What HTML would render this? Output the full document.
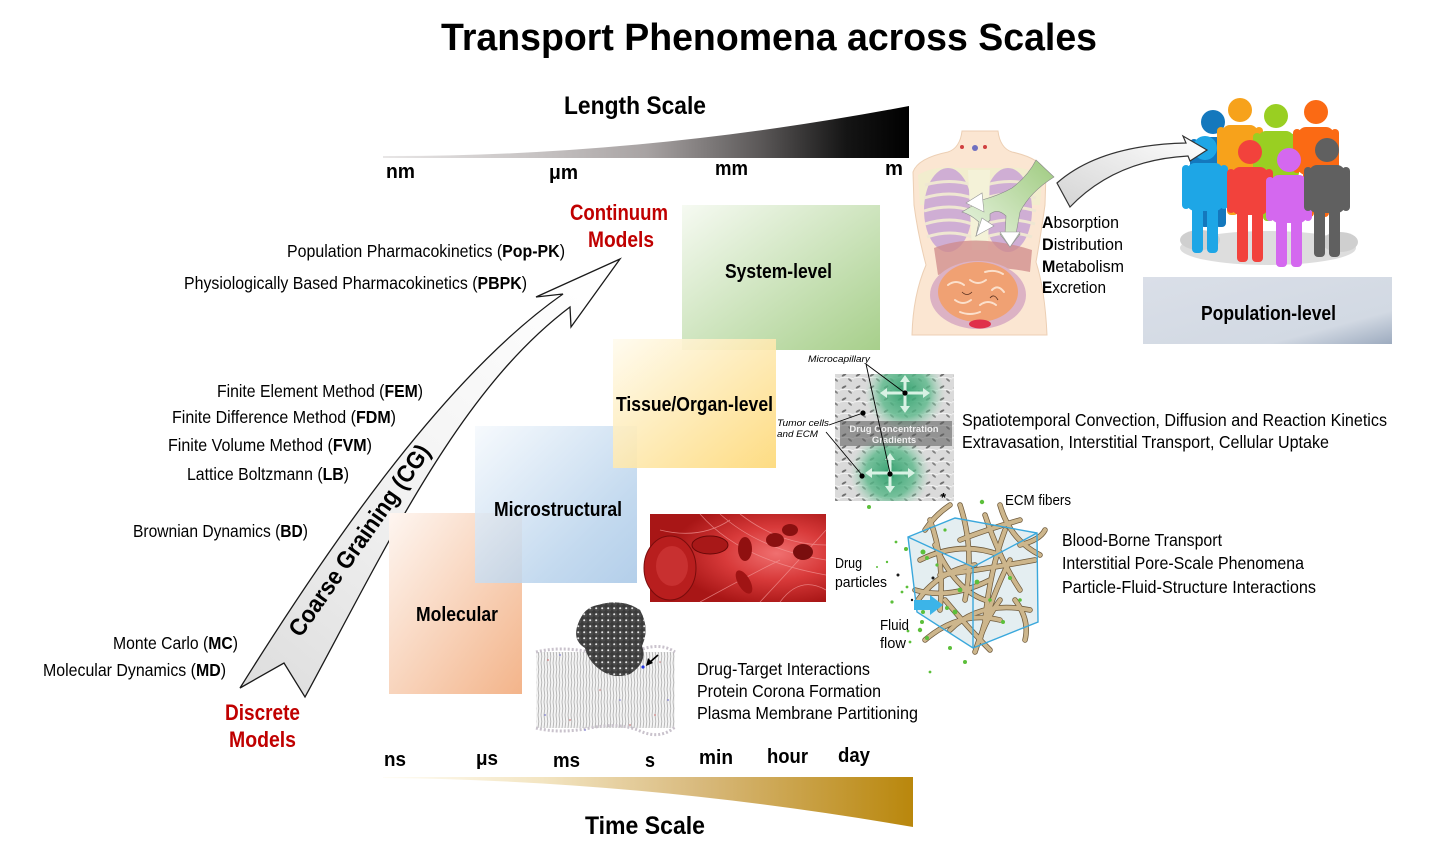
<!DOCTYPE html>
<html><head><meta charset="utf-8">
<style>
html,body{margin:0;padding:0;background:#fff;}
svg{display:block;}
text{font-family:"Liberation Sans",sans-serif;fill:#000;}
</style></head><body>
<svg width="1433" height="859" viewBox="0 0 1433 859" xmlns="http://www.w3.org/2000/svg">
<defs>
<linearGradient id="lg" x1="383" y1="0" x2="909" y2="0" gradientUnits="userSpaceOnUse">
<stop offset="0" stop-color="#e8e6e6"/><stop offset="0.3" stop-color="#c6c2c2"/><stop offset="0.5" stop-color="#a8a3a3"/><stop offset="0.72" stop-color="#5a5757"/><stop offset="0.88" stop-color="#151515"/><stop offset="1" stop-color="#000"/>
</linearGradient>
<linearGradient id="tg" x1="383" y1="0" x2="913" y2="0" gradientUnits="userSpaceOnUse">
<stop offset="0" stop-color="#fffdf6"/><stop offset="0.3" stop-color="#f3e5c2"/><stop offset="0.6" stop-color="#d8b97c"/><stop offset="1" stop-color="#b9870c"/>
</linearGradient>
<linearGradient id="gMol" x1="0" y1="0" x2="1" y2="1"><stop offset="0" stop-color="#fef6f1"/><stop offset="1" stop-color="#f3b48a"/></linearGradient>
<linearGradient id="gMic" x1="0" y1="0" x2="1" y2="1"><stop offset="0" stop-color="#f5f9fd"/><stop offset="0.7" stop-color="#b9d3ec"/><stop offset="1" stop-color="#a6c6e6"/></linearGradient>
<linearGradient id="gTis" x1="0" y1="0" x2="1" y2="1"><stop offset="0" stop-color="#fffbee"/><stop offset="1" stop-color="#fdd875"/></linearGradient>
<linearGradient id="gSys" x1="0" y1="0" x2="1" y2="1"><stop offset="0" stop-color="#f6faf2"/><stop offset="1" stop-color="#a7cf8b"/></linearGradient>
<linearGradient id="gPop" x1="0" y1="0" x2="1" y2="1"><stop offset="0" stop-color="#dadfe8"/><stop offset="0.75" stop-color="#d2d9e3"/><stop offset="1" stop-color="#9dabbf"/></linearGradient>
<linearGradient id="arrG" x1="260" y1="690" x2="600" y2="270" gradientUnits="userSpaceOnUse"><stop offset="0" stop-color="#dedede"/><stop offset="0.5" stop-color="#f4f4f4"/><stop offset="1" stop-color="#ffffff"/></linearGradient>
<linearGradient id="arr2G" x1="0" y1="1" x2="1" y2="0"><stop offset="0" stop-color="#d4d4d4"/><stop offset="1" stop-color="#ffffff"/></linearGradient>
<linearGradient id="greenA" x1="1" y1="0" x2="0" y2="1"><stop offset="0" stop-color="#9fcb80"/><stop offset="1" stop-color="#eef6e8"/></linearGradient>
<radialGradient id="bloodG" cx="0.72" cy="0.45" r="0.6"><stop offset="0" stop-color="#f07070"/><stop offset="0.5" stop-color="#d83a3a"/><stop offset="1" stop-color="#a81616"/></radialGradient>
<radialGradient id="capG"><stop offset="0" stop-color="#2f9f6c" stop-opacity="0.95"/><stop offset="0.6" stop-color="#5cb98b" stop-opacity="0.8"/><stop offset="1" stop-color="#9fd6b8" stop-opacity="0"/></radialGradient>
<pattern id="lip" width="3" height="13" patternUnits="userSpaceOnUse"><rect width="3" height="13" fill="#f4f4f4"/><path d="M1,0 L1.8,6.5 L1,13" stroke="#b3b3b3" stroke-width="0.9" fill="none"/></pattern>
<pattern id="atoms" width="6" height="6" patternUnits="userSpaceOnUse"><circle cx="3" cy="3" r="2.6" fill="#4a4a4a"/><circle cx="2.2" cy="2.2" r="1" fill="#e8e8e8"/></pattern>
<pattern id="cells" width="14" height="12" patternUnits="userSpaceOnUse"><rect width="14" height="12" fill="#dadada"/><ellipse cx="4" cy="3" rx="2.6" ry="1" fill="#707070" transform="rotate(-30 4 3)"/><ellipse cx="10" cy="8" rx="2.4" ry="0.9" fill="#808080" transform="rotate(40 10 8)"/><path d="M0,6 Q7,4 14,7" stroke="#f4f4f4" stroke-width="1" fill="none"/></pattern>
<clipPath id="tisClip"><rect x="835" y="374" width="119" height="127"/></clipPath>
</defs>

<!-- Title -->
<text x="441" y="50" font-size="38" font-weight="bold" textLength="656" lengthAdjust="spacingAndGlyphs">Transport Phenomena across Scales</text>

<!-- Length scale -->
<text x="564" y="114" font-size="25" font-weight="bold" textLength="142" lengthAdjust="spacingAndGlyphs">Length Scale</text>
<path d="M383,158 L909,158 L909,106 Q640,157 383,156 Z" fill="url(#lg)"/>
<text x="386" y="178" font-size="20" font-weight="bold" textLength="29" lengthAdjust="spacingAndGlyphs">nm</text>
<text x="549" y="179" font-size="20" font-weight="bold" textLength="29" lengthAdjust="spacingAndGlyphs">μm</text>
<text x="715" y="175" font-size="20" font-weight="bold" textLength="33" lengthAdjust="spacingAndGlyphs">mm</text>
<text x="885" y="175" font-size="20" font-weight="bold" textLength="18" lengthAdjust="spacingAndGlyphs">m</text>

<!-- Time scale -->
<text x="384" y="766" font-size="20" font-weight="bold" textLength="22" lengthAdjust="spacingAndGlyphs">ns</text>
<text x="476" y="765" font-size="20" font-weight="bold" textLength="22" lengthAdjust="spacingAndGlyphs">μs</text>
<text x="553" y="767" font-size="20" font-weight="bold" textLength="27" lengthAdjust="spacingAndGlyphs">ms</text>
<text x="645" y="767" font-size="20" font-weight="bold" textLength="10" lengthAdjust="spacingAndGlyphs">s</text>
<text x="699" y="764" font-size="20" font-weight="bold" textLength="34" lengthAdjust="spacingAndGlyphs">min</text>
<text x="767" y="763" font-size="20" font-weight="bold" textLength="41" lengthAdjust="spacingAndGlyphs">hour</text>
<text x="838" y="762" font-size="20" font-weight="bold" textLength="32" lengthAdjust="spacingAndGlyphs">day</text>
<path d="M383,777 L913,777 L913,827 Q640,780 383,778 Z" fill="url(#tg)"/>
<text x="585" y="834" font-size="25" font-weight="bold" textLength="120" lengthAdjust="spacingAndGlyphs">Time Scale</text>

<!-- Coarse graining arrow -->
<path d="M240,688 C320,560 440,380 563,294 L536,297 L620,259 L571,327 L570,307 C460,390 390,540 305,697 L284,663 Z" fill="url(#arrG)" stroke="#1a1a1a" stroke-width="1.3" stroke-linejoin="miter"/>
<text transform="translate(366,545) rotate(-55)" text-anchor="middle" font-size="24" font-weight="bold" textLength="228" lengthAdjust="spacingAndGlyphs">Coarse Graining (CG)</text>

<!-- Red labels -->
<text x="570" y="220" font-size="22" font-weight="bold" style="fill:#c00000" textLength="98" lengthAdjust="spacingAndGlyphs">Continuum</text>
<text x="588" y="247" font-size="22" font-weight="bold" style="fill:#c00000" textLength="66" lengthAdjust="spacingAndGlyphs">Models</text>
<text x="225" y="720" font-size="22" font-weight="bold" style="fill:#c00000" textLength="75" lengthAdjust="spacingAndGlyphs">Discrete</text>
<text x="229" y="747" font-size="22" font-weight="bold" style="fill:#c00000" textLength="67" lengthAdjust="spacingAndGlyphs">Models</text>

<!-- Left method labels -->
<g font-size="17.5">
<text x="287" y="257" textLength="278" lengthAdjust="spacingAndGlyphs">Population Pharmacokinetics (<tspan font-weight="bold">Pop-PK</tspan>)</text>
<text x="184" y="289" textLength="343" lengthAdjust="spacingAndGlyphs">Physiologically Based Pharmacokinetics (<tspan font-weight="bold">PBPK</tspan>)</text>
<text x="217" y="397" textLength="206" lengthAdjust="spacingAndGlyphs">Finite Element Method (<tspan font-weight="bold">FEM</tspan>)</text>
<text x="172" y="423" textLength="224" lengthAdjust="spacingAndGlyphs">Finite Difference Method (<tspan font-weight="bold">FDM</tspan>)</text>
<text x="168" y="451" textLength="204" lengthAdjust="spacingAndGlyphs">Finite Volume Method (<tspan font-weight="bold">FVM</tspan>)</text>
<text x="187" y="480" textLength="162" lengthAdjust="spacingAndGlyphs">Lattice Boltzmann (<tspan font-weight="bold">LB</tspan>)</text>
<text x="133" y="537" textLength="175" lengthAdjust="spacingAndGlyphs">Brownian Dynamics (<tspan font-weight="bold">BD</tspan>)</text>
<text x="113" y="649" textLength="125" lengthAdjust="spacingAndGlyphs">Monte Carlo (<tspan font-weight="bold">MC</tspan>)</text>
<text x="43" y="676" textLength="183" lengthAdjust="spacingAndGlyphs">Molecular Dynamics (<tspan font-weight="bold">MD</tspan>)</text>
</g>

<!-- Scale boxes -->
<rect x="389" y="513" width="133" height="181" fill="url(#gMol)"/>
<rect x="475" y="426" width="162" height="157" fill="url(#gMic)" opacity="0.85"/>
<rect x="682" y="205" width="198" height="145" fill="url(#gSys)"/>
<rect x="613" y="339" width="163" height="129" fill="url(#gTis)" opacity="0.9"/>
<g font-size="20" font-weight="bold">
<text x="416" y="621" textLength="82" lengthAdjust="spacingAndGlyphs">Molecular</text>
<text x="494" y="516" textLength="128" lengthAdjust="spacingAndGlyphs">Microstructural</text>
<text x="616" y="411" textLength="157" lengthAdjust="spacingAndGlyphs">Tissue/Organ-level</text>
<text x="725" y="278" textLength="107" lengthAdjust="spacingAndGlyphs">System-level</text>
</g>

<!-- Blood vessel image -->
<g>
<rect x="650" y="514" width="176" height="88" fill="url(#bloodG)"/>
<g fill="none" stroke="#f49a9a" stroke-width="0.8" opacity="0.7">
<path d="M700,514 Q740,560 826,575"/><path d="M720,514 Q760,550 826,560"/><path d="M740,514 Q780,545 826,545"/><path d="M760,602 Q790,570 826,530"/><path d="M780,602 Q800,575 826,590"/><path d="M700,602 Q740,580 780,560"/><path d="M660,530 Q700,540 730,520"/>
</g>
<ellipse cx="670" cy="568" rx="26" ry="32" fill="#b81e1e" stroke="#7a0c0c" stroke-width="1"/>
<ellipse cx="672" cy="566" rx="16" ry="20" fill="#c83030"/>
<ellipse cx="710" cy="545" rx="18" ry="9" fill="#a81818" stroke="#6a0808"/>
<ellipse cx="745" cy="549" rx="7" ry="12" fill="#901010"/>
<ellipse cx="744" cy="582" rx="6" ry="13" fill="#a01414" transform="rotate(-30 744 582)"/>
<ellipse cx="775" cy="540" rx="9" ry="7" fill="#8a1010"/>
<ellipse cx="790" cy="530" rx="8" ry="6" fill="#8a1010"/>
<ellipse cx="803" cy="552" rx="10" ry="8" fill="#7a0e0e"/>
</g>

<!-- Membrane + protein -->
<g>
<rect x="536" y="652" width="139" height="76" fill="url(#lip)"/>
<path d="M536,652 Q560,646 590,652 T640,650 T675,652" stroke="#c9c2cc" stroke-width="3" fill="none" stroke-dasharray="2 2"/>
<path d="M536,728 Q560,734 590,728 T640,731 T675,727" stroke="#c9c2cc" stroke-width="3" fill="none" stroke-dasharray="2 2"/>
<g fill="#d08080"><circle cx="548" cy="660" r="0.9"/><circle cx="570" cy="720" r="0.9"/><circle cx="600" cy="690" r="0.8"/><circle cx="630" cy="725" r="0.9"/><circle cx="660" cy="662" r="0.8"/><circle cx="655" cy="715" r="0.9"/></g>
<g fill="#8080d0"><circle cx="560" cy="655" r="0.9"/><circle cx="585" cy="730" r="0.9"/><circle cx="620" cy="700" r="0.8"/><circle cx="668" cy="700" r="0.9"/><circle cx="545" cy="715" r="0.9"/></g>
<path d="M598,605 Q622,598 640,610 Q650,628 642,646 Q648,662 630,674 Q612,680 598,668 Q588,660 585,648 Q572,640 578,624 Q584,607 598,605 Z" fill="#3a3a3a"/>
<path d="M598,605 Q622,598 640,610 Q650,628 642,646 Q648,662 630,674 Q612,680 598,668 Q588,660 585,648 Q572,640 578,624 Q584,607 598,605 Z" fill="url(#atoms)"/>
<line x1="658" y1="655" x2="649" y2="663" stroke="#000" stroke-width="1.6"/>
<polygon points="646,666 648,658 653,663" fill="#000"/>
<circle cx="643" cy="667" r="1.6" fill="#2233dd"/>
</g>
<g font-size="17.5">
<text x="697" y="675" textLength="173" lengthAdjust="spacingAndGlyphs">Drug-Target Interactions</text>
<text x="697" y="697" textLength="184" lengthAdjust="spacingAndGlyphs">Protein Corona Formation</text>
<text x="697" y="719" textLength="221" lengthAdjust="spacingAndGlyphs">Plasma Membrane Partitioning</text>
</g>

<!-- Tissue image -->
<g>
<rect x="835" y="374" width="119" height="127" fill="url(#cells)"/>
<g clip-path="url(#tisClip)">
<circle cx="905" cy="393" r="40" fill="url(#capG)"/>
<circle cx="890" cy="473" r="40" fill="url(#capG)"/>
</g>
<rect x="840" y="421" width="112" height="25" fill="#5a5a5a" opacity="0.55"/>
<g stroke="#d8f2e4" stroke-width="3" fill="#d8f2e4">
<line x1="885" y1="393" x2="925" y2="393"/><line x1="905" y1="378" x2="905" y2="408"/>
<line x1="870" y1="473" x2="910" y2="473"/><line x1="890" y1="458" x2="890" y2="488"/>
</g>
<g fill="#d8f2e4">
<polygon points="880,393 887,388 887,398"/><polygon points="930,393 923,388 923,398"/><polygon points="905,375 900,382 910,382"/><polygon points="905,413 900,406 910,406"/>
<polygon points="865,473 872,468 872,478"/><polygon points="915,473 908,468 908,478"/><polygon points="890,453 885,460 895,460"/><polygon points="890,493 885,486 895,486"/>
</g>
<text x="894" y="432" font-size="9.5" font-weight="bold" text-anchor="middle" style="fill:#f0f0f0">Drug Concentration</text>
<text x="894" y="443" font-size="9.5" font-weight="bold" text-anchor="middle" style="fill:#f0f0f0">Gradients</text>
<g stroke="#000" stroke-width="0.9">
<line x1="866" y1="364" x2="905" y2="393"/><line x1="866" y1="364" x2="890" y2="473"/>
<line x1="829" y1="425" x2="863" y2="413"/><line x1="826" y1="432" x2="862" y2="475"/>
</g>
<g fill="#000"><circle cx="905" cy="393" r="2.6"/><circle cx="890" cy="474" r="2.6"/><circle cx="863" cy="413" r="2.6"/><circle cx="862" cy="476" r="2.6"/></g>
<text x="941" y="502" font-size="13" font-weight="bold">*</text>
</g>
<text x="808" y="362" font-size="9.5" font-style="italic" textLength="62" lengthAdjust="spacingAndGlyphs">Microcapillary</text>
<text x="777" y="426" font-size="9.5" font-style="italic" textLength="52" lengthAdjust="spacingAndGlyphs">Tumor cells</text>
<text x="777" y="437" font-size="9.5" font-style="italic" textLength="41" lengthAdjust="spacingAndGlyphs">and ECM</text>
<g font-size="17.5">
<text x="962" y="426" textLength="425" lengthAdjust="spacingAndGlyphs">Spatiotemporal Convection, Diffusion and Reaction Kinetics</text>
<text x="962" y="448" textLength="367" lengthAdjust="spacingAndGlyphs">Extravasation, Interstitial Transport, Cellular Uptake</text>
</g>

<!-- ECM cube -->
<g>
<polygon points="908,537 955,518 1037,533 1038,622 973,648 917,612" fill="#dbe8ec" opacity="0.75"/>
<g fill="none" stroke-linecap="round">
<g stroke="#6e5a3c" stroke-width="5.5">
<path d="M920,560 Q960,540 1000,555"/><path d="M915,590 Q950,600 990,580"/><path d="M930,520 Q945,560 940,610"/><path d="M960,505 Q975,550 965,600"/><path d="M985,515 Q1000,560 1020,590"/><path d="M1000,505 Q1010,540 1040,555"/><path d="M925,640 Q960,610 1000,620"/><path d="M950,630 Q980,600 1030,610"/><path d="M940,575 Q980,570 1035,560"/><path d="M980,640 Q990,600 1010,560"/><path d="M918,600 Q940,570 975,565"/><path d="M1005,530 Q990,570 985,620"/><path d="M960,540 Q985,530 1020,520"/><path d="M935,545 Q955,590 985,600"/><path d="M975,652 Q985,620 1000,600"/><path d="M1015,600 Q1030,620 1025,640"/><path d="M945,600 Q970,630 990,650"/><path d="M925,530 Q935,515 950,505"/><path d="M1020,545 Q1040,540 1045,530"/>
</g>
<g stroke="#cdb68c" stroke-width="4">
<path d="M920,560 Q960,540 1000,555"/><path d="M915,590 Q950,600 990,580"/><path d="M930,520 Q945,560 940,610"/><path d="M960,505 Q975,550 965,600"/><path d="M985,515 Q1000,560 1020,590"/><path d="M1000,505 Q1010,540 1040,555"/><path d="M925,640 Q960,610 1000,620"/><path d="M950,630 Q980,600 1030,610"/><path d="M940,575 Q980,570 1035,560"/><path d="M980,640 Q990,600 1010,560"/><path d="M918,600 Q940,570 975,565"/><path d="M1005,530 Q990,570 985,620"/><path d="M960,540 Q985,530 1020,520"/><path d="M935,545 Q955,590 985,600"/><path d="M975,652 Q985,620 1000,600"/><path d="M1015,600 Q1030,620 1025,640"/><path d="M945,600 Q970,630 990,650"/><path d="M925,530 Q935,515 950,505"/><path d="M1020,545 Q1040,540 1045,530"/>
</g>
</g>
<g fill="none" stroke="#3aa8dc" stroke-width="1.4">
<polygon points="908,537 955,518 1037,533 1038,622 973,648 917,612"/>
<polyline points="908,537 973,567 1037,533"/><line x1="973" y1="567" x2="973" y2="648"/>
</g>
<g fill="#5cbf3a">
<circle cx="982" cy="502" r="2.2"/><circle cx="869" cy="507" r="2"/><circle cx="896" cy="542" r="1.4"/><circle cx="906" cy="549" r="2"/><circle cx="887" cy="562" r="1.2"/><circle cx="877" cy="567" r="1"/><circle cx="923" cy="552" r="2.5"/><circle cx="907" cy="587" r="1.4"/><circle cx="902" cy="592" r="1.4"/><circle cx="892" cy="602" r="1.6"/><circle cx="923" cy="612" r="2"/><circle cx="922" cy="622" r="2"/><circle cx="920" cy="630" r="2.2"/><circle cx="908" cy="631" r="1.4"/><circle cx="927" cy="638" r="2"/><circle cx="910" cy="642" r="1.4"/><circle cx="950" cy="648" r="2"/><circle cx="965" cy="662" r="2"/><circle cx="930" cy="672" r="1.4"/><circle cx="977" cy="582" r="2.4"/><circle cx="955" cy="612" r="2.4"/><circle cx="947" cy="608" r="2"/><circle cx="1003" cy="622" r="2"/><circle cx="1010" cy="578" r="2"/><circle cx="927" cy="558" r="2"/><circle cx="937" cy="565" r="1.6"/><circle cx="960" cy="590" r="2.4"/><circle cx="990" cy="600" r="1.8"/><circle cx="945" cy="530" r="1.6"/><circle cx="1020" cy="600" r="1.8"/>
</g>
<g fill="#1a1a1a"><circle cx="898" cy="575" r="1.5"/><circle cx="933" cy="578" r="1.5"/><circle cx="912" cy="600" r="1.2"/></g>
<polygon points="914,600 930,600 930,595 943,605 930,615 930,610 914,610" fill="#3cb4e8"/>
</g>
<g font-size="15">
<text x="1005" y="505" textLength="66" lengthAdjust="spacingAndGlyphs">ECM fibers</text>
<text x="835" y="568" textLength="27" lengthAdjust="spacingAndGlyphs">Drug</text>
<text x="835" y="587" textLength="52" lengthAdjust="spacingAndGlyphs">particles</text>
<text x="880" y="630" textLength="29" lengthAdjust="spacingAndGlyphs">Fluid</text>
<text x="880" y="648" textLength="26" lengthAdjust="spacingAndGlyphs">flow</text>
</g>
<g font-size="17.5">
<text x="1062" y="546" textLength="160" lengthAdjust="spacingAndGlyphs">Blood-Borne Transport</text>
<text x="1062" y="569" textLength="242" lengthAdjust="spacingAndGlyphs">Interstitial Pore-Scale Phenomena</text>
<text x="1062" y="593" textLength="254" lengthAdjust="spacingAndGlyphs">Particle-Fluid-Structure Interactions</text>
</g>

<!-- Torso -->
<g>
<path d="M962,131 L998,131 Q1000,148 1012,152 Q1040,158 1046,172 L1045,205 Q1040,240 1036,262 Q1045,290 1047,335 L912,335 Q913,295 926,265 Q918,235 914,205 L913,172 Q918,158 948,152 Q960,148 962,131 Z" fill="#fbe6d2" stroke="#eccfb4" stroke-width="1"/>
<path d="M918,175 Q935,165 960,168 L1000,168 Q1030,165 1042,178 L1040,205 L920,205 Z" fill="#eef0cc" opacity="0.7"/>
<ellipse cx="948" cy="210" rx="24" ry="42" fill="#cfaed4"/>
<ellipse cx="1008" cy="210" rx="24" ry="42" fill="#cfaed4"/>
<g stroke="#efe7d2" stroke-width="3" fill="none">
<path d="M925,185 Q950,178 972,185"/><path d="M924,198 Q950,190 972,198"/><path d="M924,211 Q950,203 972,211"/><path d="M925,224 Q950,216 972,224"/><path d="M927,237 Q950,229 972,237"/>
<path d="M986,185 Q1010,178 1035,185"/><path d="M986,198 Q1010,190 1036,198"/><path d="M986,211 Q1010,203 1036,211"/><path d="M986,224 Q1010,216 1035,224"/><path d="M986,237 Q1010,229 1032,237"/>
</g>
<path d="M968,170 L990,170 L988,250 L972,250 Z" fill="#f4f2d8"/>
<path d="M934,248 Q975,232 1032,250 L1030,272 Q980,262 938,275 Z" fill="#cf8a8a" opacity="0.75"/>
<ellipse cx="978" cy="295" rx="48" ry="34" fill="#dcb2c4"/>
<ellipse cx="978" cy="292" rx="40" ry="30" fill="#f0a173"/>
<g stroke="#fbe0cc" stroke-width="2" fill="none" stroke-linecap="round">
<path d="M948,285 q8,-6 16,0"/><path d="M970,280 q8,6 16,0"/><path d="M992,290 q6,-6 12,2"/><path d="M955,300 q8,6 16,0"/><path d="M980,305 q8,-6 16,0"/><path d="M960,312 q10,4 20,0"/><path d="M985,272 q10,-3 18,2"/>
</g>
<g stroke="#5a3020" stroke-width="0.8" fill="none"><path d="M962,292 q5,5 10,0"/><path d="M990,298 q4,-5 8,2"/></g>
<ellipse cx="980" cy="324" rx="11" ry="4.5" fill="#e0304a"/>
<circle cx="962" cy="147" r="2" fill="#d04040"/><circle cx="975" cy="148" r="3" fill="#7070c0"/><circle cx="985" cy="147" r="2" fill="#d04040"/>
<path d="M1036,160 L1054,177 Q1030,192 1020,212 L1016,234 L1020,234 L1010,247 L1000,234 L1005,234 L1006,216 Q998,208 990,214 L990,220 L976,236 L979,222 Q970,214 962,212 L972,206 L968,202 L982,193 L982,200 Q1000,195 1012,188 Q1028,176 1036,160 Z" fill="url(#greenA)" stroke="#8a8a8a" stroke-width="0.6"/>
<polygon points="966,203 982,193 984,212" fill="#fff" stroke="#999" stroke-width="0.6"/>
<polygon points="976,236 982,218 994,226" fill="#fff" stroke="#999" stroke-width="0.6"/>
<polygon points="1010,247 1000,232 1020,232" fill="#fff" stroke="#999" stroke-width="0.6"/>
</g>
<g font-size="17">
<text x="1042" y="228" textLength="77" lengthAdjust="spacingAndGlyphs"><tspan font-weight="bold">A</tspan>bsorption</text>
<text x="1042" y="250" textLength="81" lengthAdjust="spacingAndGlyphs"><tspan font-weight="bold">D</tspan>istribution</text>
<text x="1042" y="272" textLength="82" lengthAdjust="spacingAndGlyphs"><tspan font-weight="bold">M</tspan>etabolism</text>
<text x="1042" y="293" textLength="64" lengthAdjust="spacingAndGlyphs"><tspan font-weight="bold">E</tspan>xcretion</text>
</g>

<!-- Population -->
<g>
<ellipse cx="1268" cy="248" rx="88" ry="17" fill="#d4d4d4" opacity="0.8"/>
<ellipse cx="1200" cy="240" rx="20" ry="10" fill="#cfcfcf"/>
<ellipse cx="1340" cy="242" rx="18" ry="10" fill="#cfcfcf"/>
<!-- back row -->
<g fill="#1478bd" transform="translate(1213,122)"><circle r="12"/><rect x="-18" y="15" width="36" height="48" rx="8"/><rect x="-23" y="17" width="8" height="44" rx="4"/><rect x="15" y="17" width="8" height="44" rx="4"/><rect x="-13" y="55" width="11" height="50" rx="4"/><rect x="2" y="55" width="11" height="50" rx="4"/></g>
<g fill="#f7a21b" transform="translate(1240,110)"><circle r="12"/><rect x="-18" y="15" width="36" height="48" rx="8"/><rect x="-23" y="17" width="8" height="44" rx="4"/><rect x="15" y="17" width="8" height="44" rx="4"/><rect x="-13" y="55" width="11" height="50" rx="4"/><rect x="2" y="55" width="11" height="50" rx="4"/></g>
<g fill="#99cf22" transform="translate(1276,116)"><circle r="12"/><rect x="-18" y="15" width="36" height="48" rx="8"/><rect x="-23" y="17" width="8" height="44" rx="4"/><rect x="15" y="17" width="8" height="44" rx="4"/><rect x="-13" y="55" width="11" height="50" rx="4"/><rect x="2" y="55" width="11" height="50" rx="4"/></g>
<g fill="#fb6a14" transform="translate(1316,112)"><circle r="12"/><rect x="-18" y="15" width="36" height="48" rx="8"/><rect x="-23" y="17" width="8" height="44" rx="4"/><rect x="15" y="17" width="8" height="44" rx="4"/><rect x="-13" y="55" width="11" height="50" rx="4"/><rect x="2" y="55" width="11" height="50" rx="4"/></g>
<!-- front row -->
<g fill="#1ea6e6" transform="translate(1205,148)"><circle r="12"/><rect x="-18" y="15" width="36" height="48" rx="8"/><rect x="-23" y="17" width="8" height="44" rx="4"/><rect x="15" y="17" width="8" height="44" rx="4"/><rect x="-13" y="55" width="11" height="50" rx="4"/><rect x="2" y="55" width="11" height="50" rx="4"/></g>
<g fill="#f2423c" transform="translate(1250,152)"><circle r="12"/><rect x="-18" y="15" width="36" height="48" rx="8"/><rect x="-23" y="17" width="8" height="44" rx="4"/><rect x="15" y="17" width="8" height="44" rx="4"/><rect x="-13" y="55" width="11" height="55" rx="4"/><rect x="2" y="55" width="11" height="55" rx="4"/></g>
<g fill="#d468ef" transform="translate(1289,160)"><circle r="12"/><rect x="-18" y="15" width="36" height="48" rx="8"/><rect x="-23" y="17" width="8" height="44" rx="4"/><rect x="15" y="17" width="8" height="44" rx="4"/><rect x="-13" y="55" width="11" height="52" rx="4"/><rect x="2" y="55" width="11" height="52" rx="4"/></g>
<g fill="#606060" transform="translate(1327,150)"><circle r="12"/><rect x="-18" y="15" width="36" height="48" rx="8"/><rect x="-23" y="17" width="8" height="44" rx="4"/><rect x="15" y="17" width="8" height="44" rx="4"/><rect x="-13" y="55" width="11" height="52" rx="4"/><rect x="2" y="55" width="11" height="52" rx="4"/></g>
</g>

<!-- curved arrow torso -> population (drawn on top) -->
<path d="M1057,183 Q1100,145 1186,143 L1183,136 L1207,150 L1190,161 L1188,156 Q1115,160 1070,207 Z" fill="url(#arr2G)" stroke="#333" stroke-width="1.2" stroke-linejoin="miter"/>

<rect x="1143" y="277" width="249" height="67" fill="url(#gPop)"/>
<text x="1201" y="320" font-size="20" font-weight="bold" textLength="135" lengthAdjust="spacingAndGlyphs">Population-level</text>
</svg>
</body></html>
